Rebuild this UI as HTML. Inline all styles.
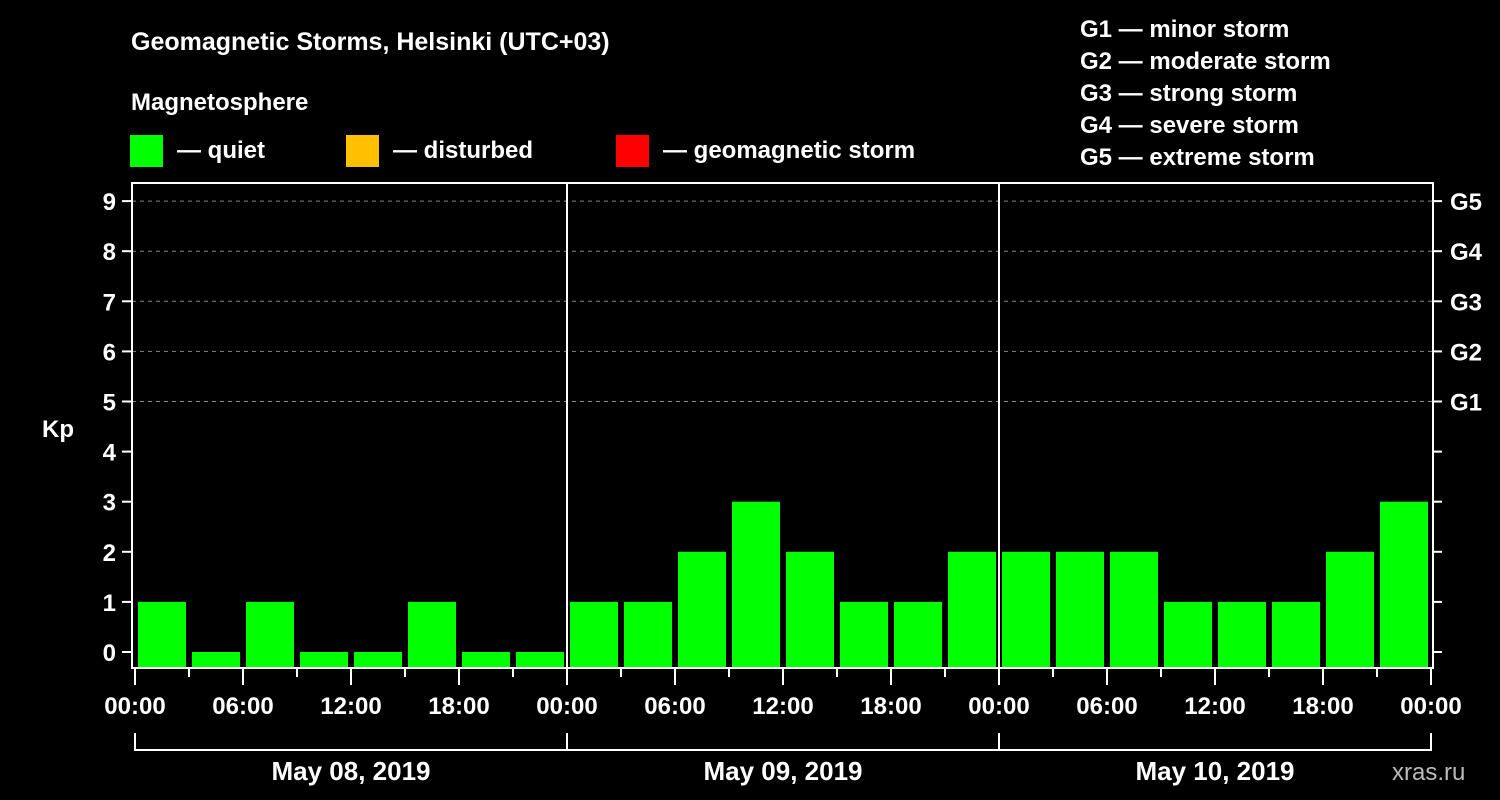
<!DOCTYPE html>
<html><head><meta charset="utf-8"><style>
html,body{margin:0;padding:0;background:#000;}
svg{display:block;font-family:"Liberation Sans",Arial,sans-serif;font-weight:bold;}
</style></head><body>
<svg id="chart" width="1500" height="800" viewBox="0 0 1500 800" xmlns="http://www.w3.org/2000/svg">
<rect x="0" y="0" width="1500" height="800" fill="#000"/>
<text x="131" y="50" fill="#fff" font-size="25">Geomagnetic Storms, Helsinki (UTC+03)</text>
<text x="131" y="110" fill="#fff" font-size="24">Magnetosphere</text>
<g><rect x="130" y="135" width="33" height="32" fill="#00ff00"/><text x="177" y="158" fill="#fff" font-size="24">— quiet</text></g>
<g><rect x="346" y="135" width="33" height="32" fill="#ffc000"/><text x="393" y="158" fill="#fff" font-size="24">— disturbed</text></g>
<g><rect x="616" y="135" width="33" height="32" fill="#ff0000"/><text x="663" y="158" fill="#fff" font-size="24">— geomagnetic storm</text></g>
<g fill="#fff" font-size="24">
<text x="1080" y="37">G1 — minor storm</text>
<text x="1080" y="69">G2 — moderate storm</text>
<text x="1080" y="101">G3 — strong storm</text>
<text x="1080" y="133">G4 — severe storm</text>
<text x="1080" y="165">G5 — extreme storm</text>
</g>
<text x="42" y="437" fill="#fff" font-size="24">Kp</text>
<text x="1392" y="780" fill="#bbb" font-size="24" font-weight="normal">xras.ru</text>
<g id="grid"></g><g id="bars"></g><g id="axes"></g>
</svg>
<script>
const values = [1,0,1,0,0,1,0,0, 1,1,2,3,2,1,1,2, 2,2,2,1,1,1,2,3];
const dayLabels = ["May 08, 2019","May 09, 2019","May 10, 2019"];
const hourLabels = ["00:00","06:00","12:00","18:00"];
const yTicks = [0,1,2,3,4,5,6,7,8,9];
const gLabels = ["G1","G2","G3","G4","G5"];

const NS="http://www.w3.org/2000/svg";
const X0=135, DAYW=432, LEFT=132, RIGHT=1433, TOP=183, BOT=668;
const nSlots=values.length;
const slotW=DAYW*dayLabels.length/nSlots;
function xs(i){return X0+i*slotW;}
function ys(v){return 652-v*50.1;}
function mk(tag,attrs,parent){const e=document.createElementNS(NS,tag);for(const k in attrs)e.setAttribute(k,attrs[k]);parent.appendChild(e);return e;}
const grid=document.getElementById('grid'),bars=document.getElementById('bars'),axes=document.getElementById('axes');

gLabels.forEach((g,i)=>{
  const y=ys(5+i);
  const l=mk('line',{x1:LEFT,x2:RIGHT,y1:y,y2:y,stroke:'#888','stroke-width':1,'stroke-dasharray':'4,4'},grid);
  
  
  const t=mk('text',{x:1450,y:y+9,fill:'#fff','font-size':24},axes);
  t.textContent=g;
  
  
});

values.forEach((v,i)=>{
  const col=v>=5?'#ff0000':(v>=4?'#ffc000':'#00ff00');
  const r=mk('rect',{x:xs(i)+3,y:ys(v),width:slotW-6,height:BOT-ys(v),fill:col},bars);
  
  
});

// frame
const fr=mk('rect',{x:LEFT,y:TOP,width:RIGHT-LEFT,height:BOT-TOP,fill:'none',stroke:'#fff','stroke-width':2},axes);


for(let d=1;d<dayLabels.length;d++){
  const l=mk('line',{x1:X0+d*DAYW,x2:X0+d*DAYW,y1:TOP,y2:BOT,stroke:'#fff','stroke-width':2},axes);
  
  
}
yTicks.forEach(v=>{
  const y=ys(v);
  mk('line',{x1:122,x2:LEFT,y1:y,y2:y,stroke:'#fff','stroke-width':2},axes);
  mk('line',{x1:RIGHT,x2:1442,y1:y,y2:y,stroke:'#fff','stroke-width':2},axes);
  const t=mk('text',{x:116,y:y+9,fill:'#fff','font-size':24,'text-anchor':'end'},axes);
  t.textContent=v;
  
  
});
for(let i=0;i<=nSlots;i++){
  const x=xs(i), major=i%2===0;
  mk('line',{x1:x,x2:x,y1:BOT,y2:major?685:677,stroke:'#fff','stroke-width':2},axes);
  if(major){
    const t=mk('text',{x:x,y:714,fill:'#fff','font-size':24,'text-anchor':'middle'},axes);
    t.textContent=hourLabels[(i/2)%hourLabels.length];
    
    
  }
}
dayLabels.forEach((d,i)=>{
  const a=X0+i*DAYW,b=a+DAYW;
  mk('path',{d:`M${a},733V750H${b}V733`,fill:'none',stroke:'#fff','stroke-width':2},axes);
  const t=mk('text',{x:(a+b)/2,y:780,fill:'#fff','font-size':26,'text-anchor':'middle'},axes);
  t.textContent=d;
  
  
});
</script>
</body></html>
